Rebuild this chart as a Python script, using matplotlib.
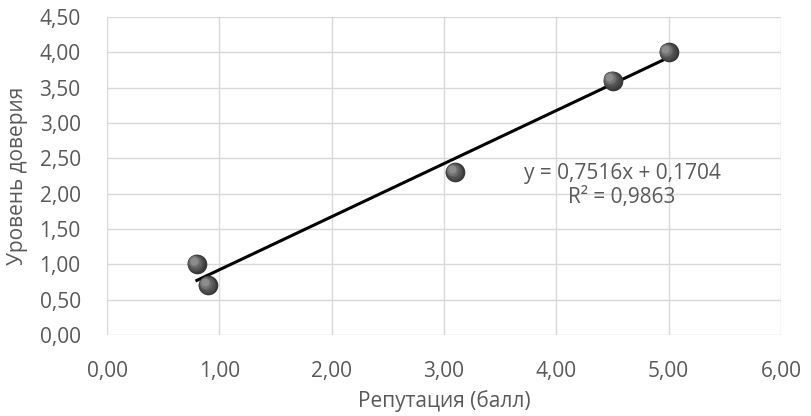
import numpy as np
import matplotlib.pyplot as plt
from matplotlib.transforms import offset_copy

# data
reputation = [0.8, 0.9, 3.1, 4.5, 5.0]
trust = [1.0, 0.7, 2.3, 3.6, 4.0]
slope, intercept = 0.7516, 0.1704
r2 = 0.9863

plt.rcParams['font.family'] = ['Open Sans', 'DejaVu Sans']
text_color = '#595959'
fs = 15

fig = plt.figure(figsize=(8.11, 4.16), dpi=100)
ax = fig.add_axes([0.132, 0.195, 0.831, 0.764])

# trendline
xs = np.array([min(reputation), max(reputation)])
ax.plot(xs, slope * xs + intercept, color='black', lw=2.2, zorder=3)

# sphere-like markers: stacked circles shifted toward upper left
layers = [(1.00, '#383838', 0.0), (0.80, '#444444', 0.6), (0.62, '#525252', 1.1),
          (0.45, '#626262', 1.6), (0.30, '#747474', 2.0), (0.16, '#8c8c8c', 2.3)]
base = 200
for frac, col, off in layers:
    tr = offset_copy(ax.transData, fig=fig, x=-off, y=off, units='points')
    ax.scatter(reputation, trust, s=base * frac, color=col, linewidths=0,
               transform=tr, zorder=4)

ax.text(4.585, 2.29, 'y = 0,7516x + 0,1704', ha='center', va='center',
        fontsize=fs, color=text_color)
ax.text(4.585, 1.95, 'R² = 0,9863', ha='center', va='center',
        fontsize=fs, color=text_color)

ax.set_xlim(0, 6)
ax.set_ylim(0, 4.5)
ax.set_xticks(np.arange(0, 6.01, 1))
ax.set_yticks(np.arange(0, 4.51, 0.5))
ax.set_xticklabels([f'{v:.2f}'.replace('.', ',') for v in ax.get_xticks()])
ax.set_yticklabels([f'{v:.2f}'.replace('.', ',') for v in ax.get_yticks()])
ax.tick_params(length=0, labelsize=fs, colors=text_color)
ax.tick_params(axis='y', pad=19)
ax.tick_params(axis='x', pad=19)

ax.grid(True, color='#d9d9d9', lw=1)
ax.set_axisbelow(True)
for s in ax.spines.values():
    s.set_visible(False)

ax.set_xlabel('Репутация (балл)', fontsize=fs, color=text_color)
ax.set_ylabel('Уровень доверия', fontsize=fs, color=text_color)
ax.xaxis.set_label_coords(0.5, -0.175)
ax.yaxis.set_label_coords(-0.117, 0.5)

fig.savefig('out.png', dpi=100, facecolor='white')
